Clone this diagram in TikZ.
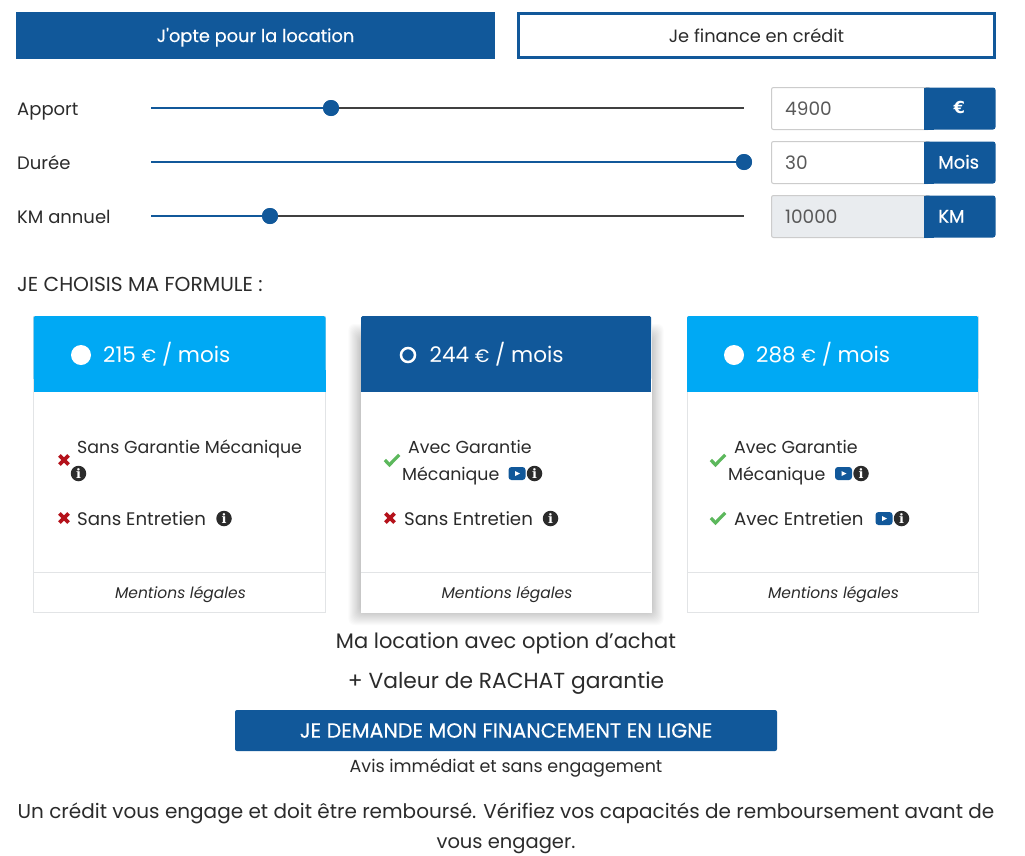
\documentclass[tikz,border=0pt]{standalone}
\usepackage{fontspec}
\setmainfont{Poppins}
\newfontfamily\glyphfont{DejaVu Serif}
\newfontfamily\eurofont{DejaVu Sans}
\newfontfamily\medfont[FakeBold=0.35]{Poppins}
\usetikzlibrary{calc}
\definecolor{bleu}{HTML}{11589A}
\definecolor{ciel}{HTML}{00A9F4}
\definecolor{encre}{HTML}{2B2B2B}
\definecolor{bord}{HTML}{E2E4E6}
\definecolor{rouge}{HTML}{B5121B}
\definecolor{vert}{HTML}{5CB85C}
\definecolor{grise}{HTML}{E9ECEF}
\tikzset{
  txt/.style={inner sep=0pt,text=encre,anchor=base west},
  mid/.style={inner sep=0pt,text=encre,anchor=base},
  onglet/.style={draw=bleu,line width=3pt,inner sep=0pt,minimum width=476pt,minimum height=44pt,text height=16pt,text depth=3pt},
  saisie/.style={draw=black!20,rounded corners=2pt,line width=1pt},
  knob/.style={circle,fill=bleu,inner sep=0pt,minimum size=16pt},
  rail/.style={line width=2pt},
}
\newcommand{\lablside}[4]{\node[txt,font=\fontsize{18}{20}\selectfont] (#1) at ( #2 , #3 ) {#4};}
\newcommand{\lablnode}[4]{\node[txt,font=\fontsize{18.2}{20}\selectfont] (#1) at ( #2 , #3 ) {#4};}
\newcommand{\lablcard}[4]{\node[txt,font=\fontsize{17.4}{20}\selectfont] (#1) at ( #2 , #3 ) {#4};}
\newcommand{\slider}[3]{
  \coordinate (#1a) at ( 151 , #2 );
  \coordinate (#1b) at ( 744 , #2 );
  \node[knob] (#1k) at ( #3 , #2 ) {};
  \draw[rail,color=encre!90] (#1k) -- (#1b);
  \draw[rail,color=bleu] (#1a) -- (#1k);
  \node[knob] at (#1k) {};
}
\newcommand{\champ}[5]{
  \draw[saisie,fill=#5] ( 771.5 , #1 ) rectangle ( 930 , #1+42 );
  \fill[bleu,rounded corners=2.5pt] ( 924 , #1 ) rectangle ( 995.5 , #1+42 );
  \fill[bleu] ( 924 , #1 ) rectangle ( 934 , #1+42 );
  \node[txt,text=black!65,font=\fontsize{18.5}{20}\selectfont] (v#3) at ( 785 , #1+27.5 ) {#3};
  \node[txt,text=white,font=\medfont\fontsize{18}{20}\selectfont] (u#3) at ( #2 , #1+27 ) {#4};
}
\newcommand{\infoicon}[3]{\node[circle,fill=encre,inner sep=0pt,minimum size=15.5pt,text=white,font=\glyphfont\bfseries\fontsize{13}{13}\selectfont] (#1) at ( #2 , #3 ) {i};}
\newcommand{\videoicon}[3]{
  \node[fill=bleu,rounded corners=3pt,inner sep=0pt,minimum width=17pt,minimum height=13pt] (#1) at ( #2 , #3 ) {};
  \fill[white] ( #2-2 , #3-2.5 ) -- ( #2+3 , #3 ) -- ( #2-2 , #3+2.5 ) -- cycle;
}
\newcommand{\croix}[2]{\draw[rouge,line width=3.6pt] ( #1-4.6 , #2-4.6 ) -- ( #1+4.6 , #2+4.6 ) ( #1-4.6 , #2+4.6 ) -- ( #1+4.6 , #2-4.6 );}
\newcommand{\coche}[2]{\draw[vert,line width=3.2pt] ( #1-7.2 , #2 ) -- ( #1-2.5 , #2+4.8 ) -- ( #1+7.2 , #2-5.2 );}
\newcommand{\carte}[5]{
  \draw[draw=#5,line width=1pt,fill=white] ( #1 , 316.5 ) rectangle ( #2 , 612.5 );
  \fill[#3,rounded corners=1.5pt] ( #1 , 316 ) rectangle ( #2 , 380 );
  \fill[#3] ( #1 , 370 ) rectangle ( #2 , 391.5 );
  \draw[color=bord,line width=1pt] ( #1 , 572.5 ) -- ( #2 , 572.5 );
  \node[mid,font=\itshape\fontsize{15.5}{18}\selectfont] (m#4) at ( #1/2+#2/2+1 , 598 ) {Mentions légales};
}
\newcommand{\prix}[2]{\node[txt,text=white,font=\fontsize{21.5}{24}\selectfont] (p#2) at ( #1 , 362.5 ) {#2 {\fontsize{18}{20}\selectfont €} / mois};}
\begin{document}
\begin{tikzpicture}[x=1pt,y=-1pt]
  \useasboundingbox ( 0 , 0 ) rectangle ( 1025 , 855 );
  \fill[white] ( 0 , 0 ) rectangle ( 1025 , 855 );

  % tabs
  \node[onglet,fill=bleu,text=white,font=\medfont\fontsize{17.8}{20}\selectfont] (loc) at ( 255.5 , 35.5 ) {J'opte pour la location};
  \node[onglet,text=encre,font=\fontsize{17.8}{20}\selectfont] (cre) at ( 756.5 , 35.5 ) {Je finance en crédit};

  % sliders
  \lablside{apport}{17}{115}{Apport}
  \lablside{duree}{17}{169}{Durée}
  \lablside{km}{17}{223}{KM annuel}
  \slider{sa}{108}{331}
  \slider{sd}{162}{744}
  \slider{sk}{216}{270}
  \champ{87.5}{953.5}{4900}{{\eurofont\bfseries\fontsize{16.5}{20}\selectfont\raisebox{1.5pt}{€}}}{white}
  \champ{141.5}{938}{30}{Mois}{white}
  \champ{195.5}{938}{10000}{KM}{grise}

  \node[txt,font=\fontsize{20.2}{22}\selectfont] (titre) at ( 17 , 291 ) {JE CHOISIS MA FORMULE :};

  % shadow of card 2
  \foreach \i in {1,...,14} {
    \fill[black,opacity=0.014,rounded corners=6pt] ( 361-\i*0.9 , 338-\i ) rectangle ( 651+\i*0.9 , 611+\i );
  }

  % cards
  \carte{33.5}{325.5}{ciel}{a}{bord}
  \carte{361}{651}{bleu}{b}{white}
  \carte{687}{978}{ciel}{c}{bord}

  % radios
  \node[circle,fill=white,inner sep=0pt,minimum size=20pt] (ra) at ( 81 , 355 ) {};
  \node[circle,draw=white,line width=2.5pt,inner sep=0pt,minimum size=14pt] (rb) at ( 408 , 355 ) {};
  \node[circle,fill=white,inner sep=0pt,minimum size=20pt] (rc) at ( 734 , 355 ) {};
  \prix{103}{215}
  \prix{429.5}{244}
  \prix{756}{288}

  % col 1
  \croix{64}{460}
  \lablcard{a1}{77}{453}{Sans Garantie Mécanique}
  \infoicon{ia1}{78.5}{473.5}
  \croix{64}{518}
  \lablnode{a2}{77}{525}{Sans Entretien}
  \infoicon{ia2}{224}{518.5}

  % col 2
  \coche{392}{460}
  \lablcard{b1}{408}{453}{Avec Garantie}
  \lablcard{b2}{402}{480}{Mécanique}
  \videoicon{vb1}{517}{473.5}
  \infoicon{ib1}{534.5}{473.5}
  \croix{390}{518}
  \lablnode{b3}{404}{525}{Sans Entretien}
  \infoicon{ib2}{550.5}{518.5}

  % col 3
  \coche{718}{460}
  \lablcard{c1}{734}{453}{Avec Garantie}
  \lablcard{c2}{728}{480}{Mécanique}
  \videoicon{vc1}{843.5}{473.5}
  \infoicon{ic1}{861}{473.5}
  \coche{718}{518}
  \lablnode{c3}{734}{525}{Avec Entretien}
  \videoicon{vc2}{884}{518.5}
  \infoicon{ic2}{901.5}{518.5}

  % bottom
  \node[mid,font=\fontsize{21}{24}\selectfont] (opt) at ( 506 , 648 ) {Ma location avec option d'achat};
  \node[mid,font=\fontsize{21.8}{24}\selectfont] (val) at ( 506 , 688 ) {+ Valeur de RACHAT garantie};
  \node[fill=bleu,rounded corners=2pt,text=white,inner sep=0pt,minimum width=542pt,minimum height=41pt,font=\medfont\fontsize{20.6}{22}\selectfont] (btn) at ( 506 , 730.5 ) {JE DEMANDE MON FINANCEMENT EN LIGNE};
  \node[mid,font=\fontsize{17.5}{20}\selectfont] (avis) at ( 506 , 772 ) {Avis immédiat et sans engagement};
  \node[mid,font=\fontsize{20}{24}\selectfont] (l1) at ( 506 , 818 ) {Un crédit vous engage et doit être remboursé. Vérifiez vos capacités de remboursement avant de};
  \node[mid,font=\fontsize{19.5}{24}\selectfont] (l2) at ( 506 , 848 ) {vous engager.};
\end{tikzpicture}
\end{document}
